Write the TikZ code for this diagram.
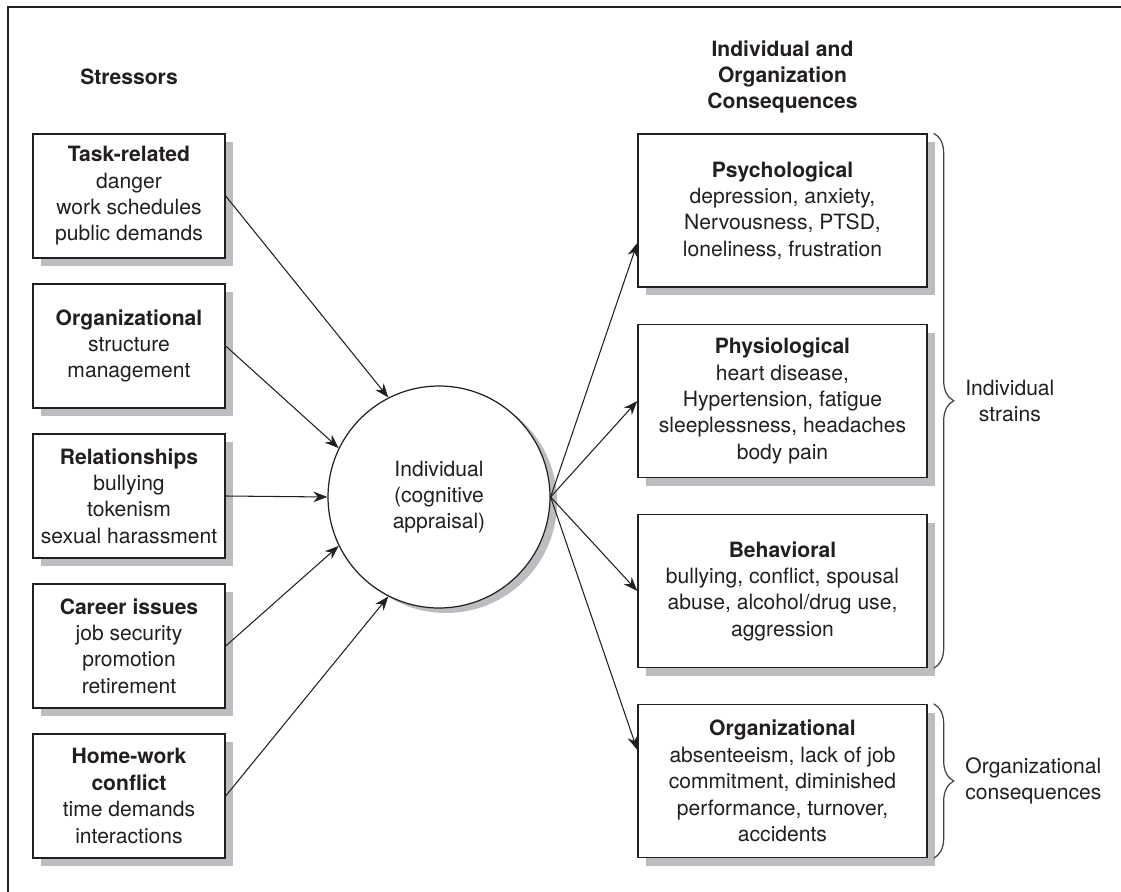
\documentclass[tikz,border=0pt]{standalone}
\usepackage{fontspec}
\setmainfont{TeX Gyre Heros}
\usepackage{tikz}
\usetikzlibrary{positioning, arrows.meta, shadows, decorations.pathreplacing, calc}
\definecolor{sombra}{RGB}{188,189,192}
\definecolor{borde}{RGB}{35,31,32}

\begin{document}
\begin{tikzpicture}[
  x=1cm, y=1cm,
  caja/.style={
    rectangle, draw=borde, line width=0.8pt, fill=white, text=borde,
    inner sep=0pt, align=center, font=\fontsize{12}{15}\selectfont,
    drop shadow={shadow xshift=0.16cm, shadow yshift=-0.16cm,
                 fill=sombra, opacity=1}
  },
  stressor/.style={caja, minimum width=3.84cm, minimum height=2.48cm},
  outcome/.style={caja, minimum width=5.78cm, minimum height=3.06cm},
  appraisal/.style={
    circle, draw=borde, line width=0.7pt, fill=white, text=borde,
    minimum size=4.44cm, inner sep=0pt, align=center,
    font=\fontsize{12}{15}\selectfont,
    drop shadow={shadow xshift=0.14cm, shadow yshift=-0.1cm,
                 fill=sombra, opacity=1}
  },
  flecha/.style={-{Stealth[length=8pt, width=6pt]}, line width=0.6pt, borde},
  llave/.style={decorate, decoration={brace, amplitude=0.4cm},
                line width=0.7pt, borde!85},
  lbl/.style={font=\fontsize{12}{15}\selectfont, align=center,
              inner sep=0pt, text=borde},
  sec/.style={font=\fontsize{12}{15}\selectfont\bfseries, align=center, text=borde}
]

\useasboundingbox (0,0) rectangle (22.42,-17.84);

%% marco
\draw[borde, line width=0.9pt] (0.16,-17.84) -- (0.16,-0.14) -- (22.42,-0.14);

%% titulos
\node[sec] (TST) at (2.58, -1.54)  {Stressors};
\node[sec] (TCQ) at (15.65, -1.54) {Individual and\\Organization\\Consequences};

%% estresores (columna izquierda)
\node[stressor] (TASK) at (2.58, -3.92)
  {\textbf{Task-related}\\danger\\work schedules\\public demands};
\node[stressor] (ORG)  at (2.58, -6.92)
  {\textbf{Organizational}\\structure\\management};
\node[stressor] (REL)  at (2.58, -9.92)
  {\textbf{Relationships}\\bullying\\tokenism\\sexual harassment};
\node[stressor] (CAR)  at (2.58, -12.92)
  {\textbf{Career issues}\\job security\\promotion\\retirement};
\node[stressor] (HOME) at (2.58, -15.92)
  {\textbf{Home-work}\\\textbf{conflict}\\time demands\\interactions};

%% individuo
\node[appraisal] (IND) at (8.78, -9.94) {Individual\\(cognitive\\appraisal)};

%% consecuencias (columna derecha)
\node[outcome] (PSY) at (15.65, -4.21)
  {\textbf{Psychological}\\depression, anxiety,\\Nervousness, PTSD,\\loneliness, frustration};
\node[outcome] (PHY) at (15.65, -8.02)
  {\textbf{Physiological}\\heart disease,\\Hypertension, fatigue\\sleeplessness, headaches\\body pain};
\node[outcome] (BEH) at (15.65, -11.82)
  {\textbf{Behavioral}\\bullying, conflict, spousal\\abuse, alcohol/drug use,\\aggression};
\node[outcome] (ORC) at (15.65, -15.62)
  {\textbf{Organizational}\\absenteeism, lack of job\\commitment, diminished\\performance, turnover,\\accidents};

%% flechas de entrada
\draw[flecha] (TASK.east) -- (IND.117);
\draw[flecha] (ORG.east)  -- (IND.154);
\draw[flecha] (REL.east)  -- (IND.180);
\draw[flecha] (CAR.east)  -- (IND.206);
\draw[flecha] (HOME.east) -- (IND.243);

%% flechas de salida
\draw[flecha] (IND.east) -- ([yshift=-0.65cm]PSY.west);
\draw[flecha] (IND.east) -- (PHY.west);
\draw[flecha] (IND.east) -- (BEH.west);
\draw[flecha] (IND.east) -- ([yshift=0.62cm]ORC.west);

%% llaves
\draw[llave] ([xshift=0.12cm]PSY.north east) -- ([xshift=0.12cm]BEH.south east)
  node[lbl, midway, anchor=west, xshift=0.62cm] {Individual\\strains};
\draw[llave] ([xshift=0.12cm]ORC.north east) -- ([xshift=0.12cm]ORC.south east)
  node[lbl, midway, anchor=west, xshift=0.62cm] {Organizational\\consequences};

\end{tikzpicture}
\end{document}
